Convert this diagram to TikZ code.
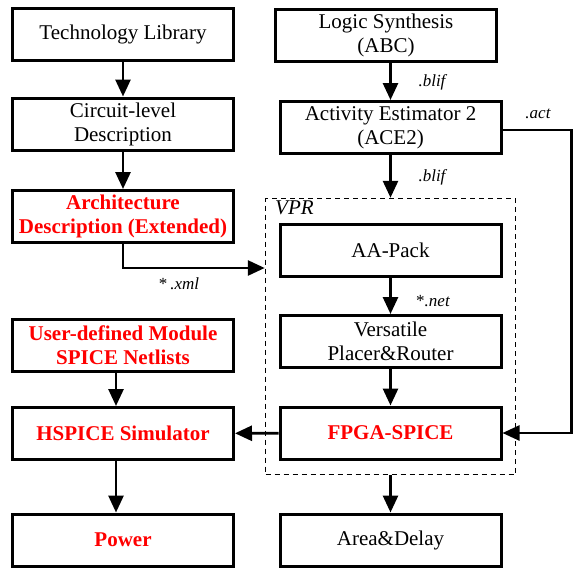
\documentclass[tikz,border=0pt]{standalone}
\usepackage{fontspec}
\setmainfont{Liberation Serif}
\newfontfamily\fcfont{Liberation Serif}
\usetikzlibrary{arrows.meta,positioning}

\begin{document}
\begin{tikzpicture}[x=1pt,y=-1pt,
  box/.style={draw,line width=3pt,minimum width=221pt,minimum height=52pt,align=center,inner sep=0pt,font=\fcfont\fontsize{21}{24}\selectfont},
  redbox/.style={box,text=red,font=\fcfont\fontsize{21}{24}\selectfont\bfseries},
  arr/.style={-{Triangle[length=17pt,width=15pt]},line width=2.8pt},
  lbl/.style={font=\fcfont\fontsize{17}{20}\selectfont\itshape,inner sep=0pt}]
\useasboundingbox (0,0) rectangle (581,574);
% left column
\node[box] (tech) at (123,34.5) {Technology Library};
\node[box] (circ) at (123,124) {Circuit-level\\Description};
\node[redbox] (arch) at (123,216.5) {Architecture\\Description (Extended)};
\node[redbox] (user) at (123,345.5) {User-defined Module\\SPICE Netlists};
\node[redbox] (hspice) at (123,433.5) {HSPICE Simulator};
\node[redbox] (power) at (123,540) {Power};
% right column
\node[box] (logic) at (386,35.5) {Logic Synthesis\\(ABC)};
\node[box] (ace) at (390.5,127.5) {Activity Estimator 2\\(ACE2)};
\node[draw,dashed,line width=1.5pt,dash pattern=on 5pt off 4pt,minimum width=250pt,minimum height=276pt,inner sep=0pt] (vprbox) at (390.5,336.5) {};
\node[lbl,font=\fcfont\fontsize{21}{24}\selectfont\itshape,anchor=west] (vprlbl) at (275,208) {VPR};
\node[box] (aapack) at (390.5,250.5) {AA-Pack};
\node[box] (vpr) at (390.5,341.5) {Versatile\\Placer\&Router};
\node[redbox] (fpga) at (390.5,433) {FPGA-SPICE};
\node[box] (area) at (390.5,540) {Area\&Delay};
% file labels
\node[lbl] (blifa) at (432,82) {.blif};
\node[lbl] (blifb) at (432,177) {.blif};
\node[lbl] (act) at (538,114) {.act};
\node[lbl] (xml) at (179,284) {{\upshape *}\,.xml};
\node[lbl] (net) at (433,301) {{\upshape *}.net};
% connections
\draw[arr] (tech) -- (circ);
\draw[arr] (circ) -- (arch);
\draw[arr] (arch.south) |- ([yshift=68.5pt]vprbox.west);
\draw[arr] ([xshift=-7pt]user.south) -- ([xshift=-7pt]hspice.north);
\draw[arr] ([xshift=-7pt]hspice.south) -- ([xshift=-7pt]power.north);
\draw[arr] (ace.north |- logic.south) -- (ace.north);
\draw[arr] (ace) -- (vprbox.north);
\draw[arr] (aapack) -- (vpr);
\draw[arr] (vpr) -- (fpga);
\draw[arr] (fpga) -- (hspice);
\draw[arr] (vprbox.south) -- (area);
\draw[arr,line width=2.5pt] ([yshift=-2.5pt]ace.east) -- ++(69,0) |- (fpga.east);
\end{tikzpicture}
\end{document}
